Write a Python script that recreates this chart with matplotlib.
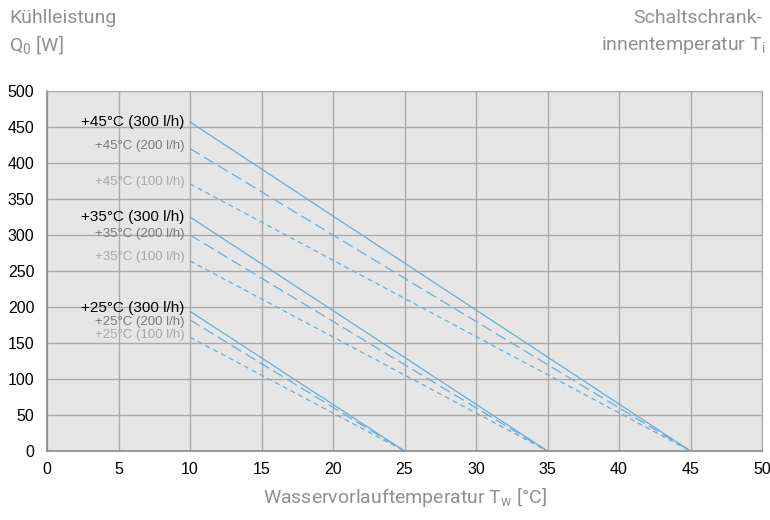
import matplotlib
matplotlib.use("Agg")
import matplotlib.pyplot as plt

# cabinet inside temperatures (line reaches 0 W here) and flow rates
t_inside = [45, 35, 25]
flows = ["300 l/h", "200 l/h", "100 l/h"]
tw_start = 10
# cooling output at Tw = 10 °C, rows = t_inside, cols = flows
q_start = [[457, 420, 371],
           [325, 300, 264],
           [194, 182, 158]]
# label heights (W) for the curve captions
label_y = [[457, 423, 374],
           [325, 301, 270],
           [199, 179, 161]]

x_ticks = list(range(0, 51, 5))
y_ticks = list(range(0, 501, 50))

line_col = "#6aaed8"
styles = ["-", (0, (9, 4)), (0, (4, 3))]
txt_cols = ["#000000", "#7a7a7a", "#a8a8a8"]
txt_size = [11, 9.5, 9.5]
title_col = "#909090"

plt.rcParams["font.family"] = ["Liberation Sans", "DejaVu Sans"]

fig = plt.figure(figsize=(7.7, 5.2), dpi=100)
ax = fig.add_axes([47/770, 1 - 451/520, 715/770, 360/520])
ax.set_facecolor("#e6e6e6")

for i, ti in enumerate(t_inside):
    for j, fl in enumerate(flows):
        ax.plot([tw_start, ti], [q_start[i][j], 0], color=line_col, lw=0.9,
                linestyle=styles[j])
        ax.text(9.6, label_y[i][j], "+%d°C (%s)" % (ti, fl), ha="right",
                va="center", color=txt_cols[j], fontsize=txt_size[j])

ax.set_xlim(0, 50)
ax.set_ylim(0, 500)
ax.set_xticks(x_ticks)
ax.set_yticks(y_ticks)
ax.grid(True, color="#ababab", lw=1)
ax.set_axisbelow(True)
ax.tick_params(length=0, labelsize=11.5)
ax.tick_params(axis="y", pad=9)
ax.tick_params(axis="x", pad=8)
for s in ["top", "right"]:
    ax.spines[s].set_color("#ababab")
for s in ["left", "bottom"]:
    ax.spines[s].set_color("#8a8a8a")
    ax.spines[s].set_linewidth(1.2)

tfont = dict(family=["Roboto", "DejaVu Sans"], color=title_col, fontsize=14)
fig.text(9/770, 1 - 18/520, "Kühlleistung", va="center", **tfont)
fig.text(9/770, 1 - 45/520, r"$\mathregular{Q_0}$ [W]", va="center", **tfont)
fig.text(762/770, 1 - 18/520, "Schaltschrank-", ha="right", va="center", **tfont)
fig.text(766/770, 1 - 45/520, r"innentemperatur $\mathregular{T_i}$", ha="right",
         va="center", **tfont)
fig.text(405/770, 1 - 497/520, r"Wasservorlauftemperatur $\mathregular{T_w}$ [°C]",
         ha="center", va="center", **tfont)

fig.savefig("out.png", dpi=100)
